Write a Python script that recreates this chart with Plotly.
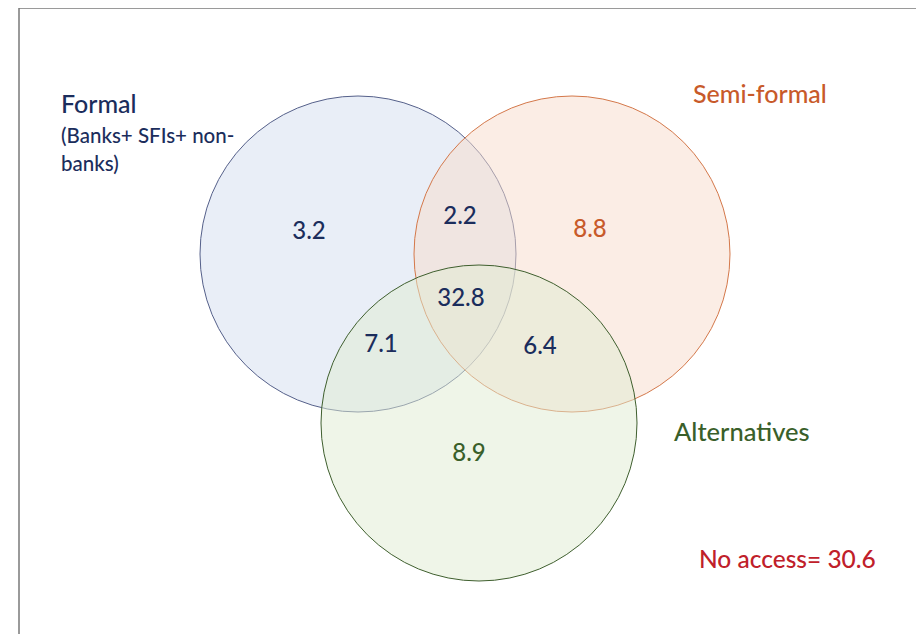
import plotly.graph_objects as go

# ---- data ----
set_names = ["Formal", "Semi-formal", "Alternatives"]
set_subtitle = ["(Banks+ SFIs+ non-", "banks)"]
region_labels = ["Formal only", "Formal & Semi-formal", "Semi-formal only",
                 "All three", "Formal & Alternatives", "Semi-formal & Alternatives",
                 "Alternatives only"]
region_values = [3.2, 2.2, 8.8, 32.8, 7.1, 6.4, 8.9]
no_access_value = 30.6

# ---- layout constants (pixel space) ----
W, H = 924, 634
OFF = 8  # page body margin
circle_centers = [(358, 254), (572, 254), (479, 423)]
circle_radius = 158
circle_fill = ["rgba(211,221,239,0.5)", "rgba(247,219,203,0.5)", "rgba(223,235,209,0.5)"]
circle_line = ["#55608a", "#d4784a", "#3f5f2e"]
region_pos = [(309, 233), (460, 218), (590, 231), (461, 300), (381, 346), (540, 348), (469, 455)]
navy = "#1b2d5c"
orange = "#c85a2a"
green = "#3a5f2a"
red = "#c0202a"
region_color = [navy, navy, orange, navy, navy, navy, green]
FONT = "Lato"

fig = go.Figure()

shapes = []
for (cx, cy), fc, lc in zip(circle_centers, circle_fill, circle_line):
    shapes.append(dict(type="circle", xref="x", yref="y",
                       x0=cx - circle_radius, x1=cx + circle_radius,
                       y0=cy - circle_radius, y1=cy + circle_radius,
                       fillcolor=fc, line=dict(color=lc, width=1), layer="below"))
# frame
shapes.append(dict(type="rect", xref="x", yref="y", x0=19, x1=W + 20, y0=8, y1=H + 20,
                   line=dict(color="#7a7a7a", width=1.5), fillcolor="rgba(0,0,0,0)",
                   layer="below"))

fig.add_trace(go.Scatter(
    x=[p[0] for p in region_pos], y=[p[1] for p in region_pos],
    mode="text", text=[f"{v:.1f}" for v in region_values],
    textfont=dict(family=FONT, size=24, color=region_color, weight=500),
    hovertext=region_labels, hoverinfo="text", showlegend=False))

annotations = [
    dict(x=59, y=103, text=set_names[0], xanchor="left", yanchor="middle",
         font=dict(family=FONT, size=25, color=navy, weight=500)),
    dict(x=59, y=135, text=set_subtitle[0], xanchor="left", yanchor="middle",
         font=dict(family=FONT, size=20.5, color=navy, weight=500)),
    dict(x=59, y=163, text=set_subtitle[1], xanchor="left", yanchor="middle",
         font=dict(family=FONT, size=20.5, color=navy, weight=500)),
    dict(x=691, y=93, text=set_names[1], xanchor="left", yanchor="middle",
         font=dict(family=FONT, size=25, color=orange, weight=500)),
    dict(x=672, y=431, text=set_names[2], xanchor="left", yanchor="middle",
         font=dict(family=FONT, size=25.5, color=green, weight=500)),
    dict(x=697, y=558, text=f"No access= {no_access_value}", xanchor="left", yanchor="middle",
         font=dict(family=FONT, size=24.5, color=red, weight=500)),
]
for a in annotations:
    a.update(xref="x", yref="y", showarrow=False)

fig.update_layout(
    width=W, height=H, autosize=False,
    margin=dict(l=0, r=0, t=0, b=0),
    paper_bgcolor="white", plot_bgcolor="white",
    xaxis=dict(range=[OFF, W + OFF], visible=False, fixedrange=True),
    yaxis=dict(range=[H + OFF, OFF], visible=False, fixedrange=True),
    shapes=shapes, annotations=annotations,
)

fig.write_html("out.html")
